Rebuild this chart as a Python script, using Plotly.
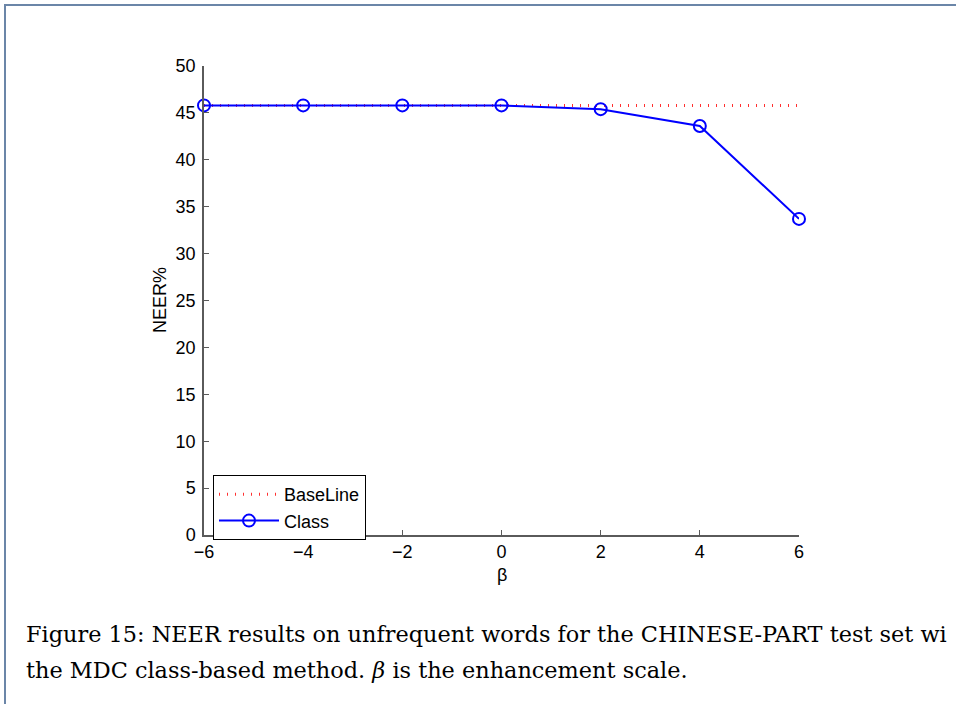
import plotly.graph_objects as go

# Enhancement scale values and NEER (%) for each method
beta = [-6, -4, -2, 0, 2, 4, 6]
baseline_neer = [45.8, 45.8, 45.8, 45.8, 45.8, 45.8, 45.8]
class_neer = [45.8, 45.8, 45.8, 45.8, 45.4, 43.6, 33.7]

x_ticks = [-6, -4, -2, 0, 2, 4, 6]
y_ticks = [0, 5, 10, 15, 20, 25, 30, 35, 40, 45, 50]

caption_1 = "Figure 15: NEER results on unfrequent words for the CHINESE-PART test set wi"
caption_2 = "the MDC class-based method. <i>β</i> is the enhancement scale."

W, H = 956, 704
L, R, T, B = 204, 799, 66, 535  # plot area in pixels


def px(x):
    return (x - L) / (R - L)


def py(y):
    return (B - y) / (B - T)


tick_font = dict(family="Liberation Sans, Arial, sans-serif", size=18, color="black")
caption_font = dict(family="DejaVu Serif, serif", size=22.4, color="black")
axis_color = "#5a5a5a"

fig = go.Figure()
fig.add_trace(go.Scatter(
    x=beta, y=baseline_neer, name="BaseLine", mode="lines", cliponaxis=False,
    line=dict(color="#ff3030", width=3, dash="1px,7px"),
))
fig.add_trace(go.Scatter(
    x=beta, y=class_neer, name="Class", mode="lines+markers", cliponaxis=False,
    line=dict(color="#0000ff", width=2),
    marker=dict(symbol="circle-open", size=12, color="#0000ff", line=dict(width=2)),
))

fig.update_layout(
    width=W, height=H,
    margin=dict(l=L, r=W - R, t=T, b=H - B),
    paper_bgcolor="white", plot_bgcolor="white",
    showlegend=True,
    legend=dict(
        x=px(213), y=py(475), xanchor="left", yanchor="top",
        bordercolor="black", borderwidth=1, bgcolor="white",
        font=tick_font, tracegroupgap=0, itemwidth=60,
    ),
    xaxis=dict(
        range=[-6, 6], tickvals=x_ticks, ticktext=[("−%d" % -v) if v < 0 else str(v) for v in x_ticks],
        showline=True, linecolor=axis_color, linewidth=1.5, showgrid=False, zeroline=False,
        ticks="inside", ticklen=5, tickcolor=axis_color, tickfont=tick_font,
    ),
    yaxis=dict(
        range=[0, 50], tickvals=y_ticks,
        showline=True, linecolor=axis_color, linewidth=1.5, showgrid=False, zeroline=False,
        ticks="inside", ticklen=5, tickcolor=axis_color, tickfont=tick_font,
        ticklabelstandoff=3,
    ),
    annotations=[
        dict(text="NEER%", xref="paper", yref="paper", x=px(160), y=py(300), textangle=-90,
             showarrow=False, font=tick_font, xanchor="center", yanchor="middle"),
        dict(text="β", xref="paper", yref="paper", x=px(502), y=py(575),
             showarrow=False, font=tick_font, xanchor="center", yanchor="middle"),
        dict(text=caption_1, xref="paper", yref="paper", x=px(24), y=py(634),
             showarrow=False, xanchor="left", yanchor="middle", font=caption_font),
        dict(text=caption_2, xref="paper", yref="paper", x=px(24), y=py(670),
             showarrow=False, xanchor="left", yanchor="middle", font=caption_font),
    ],
    shapes=[
        dict(type="line", xref="paper", yref="paper", x0=px(4), x1=px(W + 10), y0=py(5), y1=py(5),
             line=dict(color="#6b86a8", width=2)),
        dict(type="line", xref="paper", yref="paper", x0=px(5), x1=px(5), y0=py(5), y1=py(H + 10),
             line=dict(color="#6b86a8", width=2)),
    ],
)

fig.write_html("out.html")
